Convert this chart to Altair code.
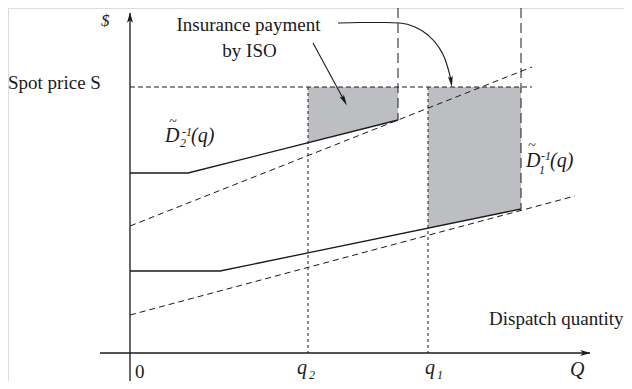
import altair as alt
import pandas as pd
import numpy as np

# ---- diagram values (origin = intersection of the axes, units ~ px) ----
spot_price = 266
q2, q1 = 178, 298          # dispatch quantities
q2_end, q1_end = 268, 391  # where bid curve meets the tangent (dashed verticals)

d2_q = [0, 58, 268]
d2_p = [180, 180, 233]
d1_q = [0, 90, 391]
d1_p = [82, 82, 144]
t2_q = [0, 402]
t2_p = [127, 286]
t1_q = [0, 445]
t1_p = [38, 157]

x_axis_ext = [-30, 460]
y_axis_ext = [-34, 340]

curve_q = [208, 230, 255, 270, 285, 298, 308, 315, 319, 321]
curve_p = [330, 330.5, 330.5, 330, 326, 318, 307, 294, 281, 273]

FONT = "Liberation Serif"
INK = "#1a1a1a"
GRAY = "#bdbec2"

xs = alt.Scale(domain=[-122, 494], nice=False, zero=False)
ys = alt.Scale(domain=[-28, 345], nice=False, zero=False)


def X(f="x"):
    return alt.X(f"{f}:Q", scale=xs, axis=None)


def Y(f="y"):
    return alt.Y(f"{f}:Q", scale=ys, axis=None)


# shaded areas
def shade(qa, qb, qs, ps, g):
    xx = np.array([qa, qb])
    return pd.DataFrame({"x": xx, "lo": np.interp(xx, qs, ps), "hi": spot_price, "g": g})


shade_df = pd.concat([shade(q2, q2_end, d2_q, d2_p, "a"), shade(q1, q1_end, d1_q, d1_p, "b")])
areas = alt.Chart(shade_df).mark_area(color=GRAY, opacity=1).encode(
    x=X(), y=Y("lo"), y2="hi:Q", detail="g:N")

solid_df = pd.concat([
    pd.DataFrame({"x": d2_q, "y": d2_p, "g": "d2"}),
    pd.DataFrame({"x": d1_q, "y": d1_p, "g": "d1"}),
])
solid = alt.Chart(solid_df).mark_line(color=INK, strokeWidth=1.3).encode(
    x=X(), y=Y(), detail="g:N")

tan_df = pd.concat([
    pd.DataFrame({"x": t2_q, "y": t2_p, "g": "t2"}),
    pd.DataFrame({"x": t1_q, "y": t1_p, "g": "t1"}),
])
tangents = alt.Chart(tan_df).mark_line(color=INK, strokeWidth=1, strokeDash=[6, 4]).encode(
    x=X(), y=Y(), detail="g:N")

spot_df = pd.DataFrame({"x": [0], "x2": [t2_q[1]], "y": [spot_price]})
spot = alt.Chart(spot_df).mark_rule(color=INK, strokeWidth=1, strokeDash=[5, 3]).encode(
    x=X(), x2="x2:Q", y=Y())

qv_df = pd.DataFrame({"x": [q2, q1], "y": [spot_price, spot_price], "y2": [0, 0]})
qv = alt.Chart(qv_df).mark_rule(color=INK, strokeWidth=1, strokeDash=[3, 3]).encode(
    x=X(), y=Y(), y2="y2:Q")

lv_df = pd.DataFrame({"x": [q2_end, q1_end], "y": [345, 345],
                      "y2": [np.interp(q2_end, d2_q, d2_p), np.interp(q1_end, d1_q, d1_p)]})
lv = alt.Chart(lv_df).mark_rule(color=INK, strokeWidth=1, strokeDash=[10, 5]).encode(
    x=X(), y=Y(), y2="y2:Q")

ax_df = pd.DataFrame({"x": [x_axis_ext[0], 0], "x2": [x_axis_ext[1], 0],
                      "y": [0, y_axis_ext[0]], "y2": [0, y_axis_ext[1]]})
axes = alt.Chart(ax_df).mark_rule(color=INK, strokeWidth=1.3).encode(
    x=X(), x2="x2:Q", y=Y(), y2="y2:Q")

HEAD = "M0,-1L0.55,0.85L0,0.4L-0.55,0.85Z"
NARROW = "M0,-1L0.4,0.8L0,0.45L-0.4,0.8Z"


def head(x, y, ang, size, shape=HEAD):
    return alt.Chart(pd.DataFrame({"x": [x], "y": [y]})).mark_point(
        shape=shape, filled=True, color=INK, opacity=1, size=size, angle=ang
    ).encode(x=X(), y=Y())


heads = [
    head(0, 335, 0, 120),
    head(455, 0, 90, 120),
    head(214, 253, 152, 150, NARROW),
    head(321, 272, 172, 150, NARROW),
]

arrow1 = alt.Chart(pd.DataFrame({"x": [183, 215], "y": [310, 251]})).mark_line(
    color=INK, strokeWidth=1.1).encode(x=X(), y=Y())
arrow2 = alt.Chart(pd.DataFrame({"x": curve_q, "y": curve_p})).mark_line(
    color=INK, strokeWidth=1.1, interpolate="monotone").encode(x=X(), y=Y(), order="x:Q")

# ---- labels ----
lab_text = ["Spot price S", "Dispatch quantity", "Insurance payment", "by ISO"]
lab_x = [-122, 359, 118.5, 119.5]
lab_y = [264, 28, 322, 296]
lab_align = ["left", "left", "center", "center"]

it_text = ["$", "0", "q", "q", "Q", "D", "(q)", "D", "(q)"]
it_x = [-29, 5, 167, 295, 440, 35, 61, 396, 420]
it_y = [327, -25, -21, -21, -23, 211, 211, 186, 186]
it_size = [17, 19, 20, 20, 20, 20, 20, 20, 20]
it_style = ["italic", "normal", "italic", "italic", "italic", "italic", "italic", "italic", "italic"]

sm_text = ["2", "1", "2", "-1", "1", "-1"]
sm_x = [179, 307, 50, 52, 409, 411]
sm_y = [-26, -26, 206, 217, 179, 193]

tilde_x = [43, 402]
tilde_y = [231, 207]

texts = []
for t, x, y, a in zip(lab_text, lab_x, lab_y, lab_align):
    texts.append(alt.Chart(pd.DataFrame({"x": [x], "y": [y], "t": [t]})).mark_text(
        font=FONT, fontSize=19, color=INK, align=a, baseline="alphabetic").encode(
        x=X(), y=Y(), text="t:N"))
for t, x, y, s, st in zip(it_text, it_x, it_y, it_size, it_style):
    texts.append(alt.Chart(pd.DataFrame({"x": [x], "y": [y], "t": [t]})).mark_text(
        font=FONT, fontSize=s, fontStyle=st, color=INK, align="left", baseline="alphabetic").encode(
        x=X(), y=Y(), text="t:N"))
sm = alt.Chart(pd.DataFrame({"x": sm_x, "y": sm_y, "t": sm_text})).mark_text(
    font=FONT, fontSize=12, fontStyle="italic", color=INK, align="left", baseline="alphabetic").encode(
    x=X(), y=Y(), text="t:N")
tl = alt.Chart(pd.DataFrame({"x": tilde_x, "y": tilde_y, "t": ["~", "~"]})).mark_text(
    font=FONT, fontSize=14, color=INK, align="center", baseline="middle").encode(
    x=X(), y=Y(), text="t:N")

chart = alt.layer(
    areas, solid, tangents, spot, qv, lv, axes, arrow1, arrow2, *heads, *texts, sm, tl
).properties(width=616, height=373, autosize=alt.AutoSizeParams(type="none"), padding=0
).configure_view(strokeWidth=0).configure(background="white")

chart.save("out.html", embed_options={"renderer": "svg", "actions": False})
